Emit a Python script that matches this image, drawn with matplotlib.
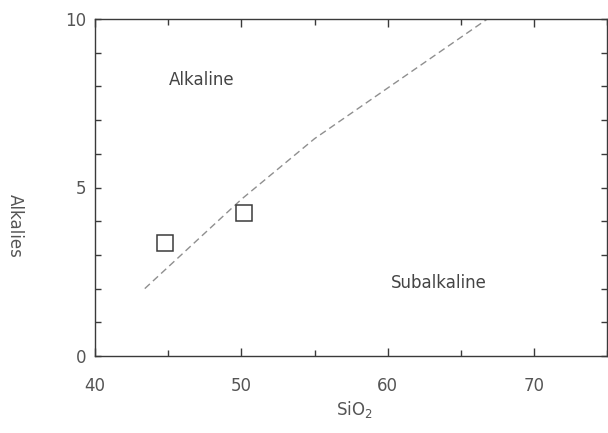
import matplotlib
matplotlib.use("Agg")
import matplotlib.pyplot as plt
from matplotlib.ticker import MultipleLocator

# alkaline / subalkaline dividing line
boundary_sio2 = [43.4, 50.0, 55.0, 66.8]
boundary_alk = [2.0, 4.65, 6.45, 10.0]

# samples
sample_sio2 = [44.8, 50.2]
sample_alk = [3.35, 4.25]

W, H = 608, 433
fig = plt.figure(figsize=(W / 100, H / 100), dpi=100)
ax = fig.add_axes([95 / W, 1 - 356 / H, 1.0 - 95 / W - 0.001, (356 - 19) / H])

ink = "#3a3a3a"
ax.plot(boundary_sio2, boundary_alk, color="#8f8f8f", lw=1.0, ls=(0, (5, 3)))
ax.plot(sample_sio2, sample_alk, ls="none", marker="s", ms=11,
        mfc="white", mec=ink, mew=1.1)

ax.set_xlim(40, 75)
ax.set_ylim(0, 10)

ax.xaxis.set_major_locator(MultipleLocator(10))
ax.xaxis.set_minor_locator(MultipleLocator(5))
ax.yaxis.set_major_locator(MultipleLocator(5))
ax.yaxis.set_minor_locator(MultipleLocator(1))
ax.tick_params(which="both", direction="in", top=True, right=True,
               color=ink, labelcolor="#555555", labelsize=12)
ax.tick_params(which="major", length=6, width=1)
ax.tick_params(which="minor", length=4, width=1)
ax.tick_params(axis="y", which="major", length=4, pad=6)
ax.tick_params(axis="x", pad=15)
for s in ax.spines.values():
    s.set_color(ink)
    s.set_linewidth(1.0)

ax.text(47.3, 8.2, "Alkaline", ha="center", va="center", fontsize=12, color="#444444")
ax.text(63.5, 2.17, "Subalkaline", ha="center", va="center", fontsize=12, color="#444444")

fig.text(15 / W, 1 - 226 / H, "Alkalies", rotation=270, ha="center", va="center",
         fontsize=12, color="#555555")
fig.text(354 / W, 1 - 410 / H, "SiO$_2$", ha="center", va="center",
         fontsize=12, color="#555555")

fig.savefig("out.png", dpi=100)
